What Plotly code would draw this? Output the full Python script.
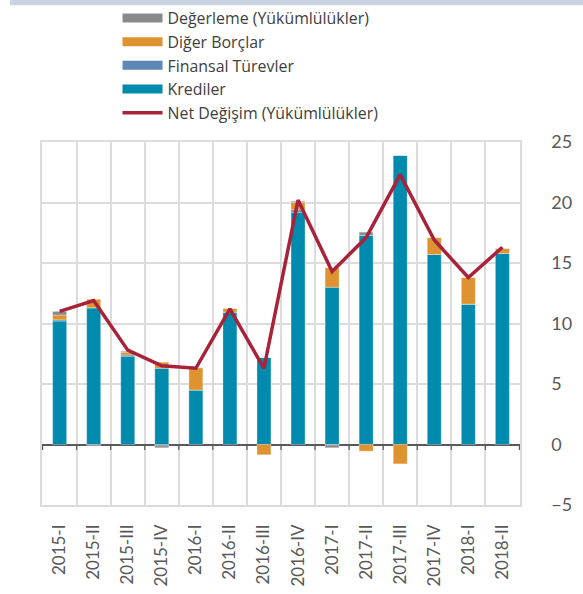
import plotly.graph_objects as go

quarters = ["2015-I", "2015-II", "2015-III", "2015-IV", "2016-I", "2016-II", "2016-III",
            "2016-IV", "2017-I", "2017-II", "2017-III", "2017-IV", "2018-I", "2018-II"]

krediler = [10.2, 11.3, 7.3, 6.3, 4.5, 10.9, 7.2, 19.2, 13.0, 17.3, 23.9, 15.7, 11.6, 15.8]
finansal_turevler = [0.1, 0.0, 0.1, -0.1, 0.0, 0.05, 0.0, 0.2, -0.05, 0.0, 0.0, 0.0, 0.0, 0.0]
diger_borclar = [0.4, 0.7, 0.2, 0.5, 1.85, 0.3, -0.85, 0.6, 1.6, -0.55, -1.6, 1.4, 2.2, 0.4]
degerleme = [0.3, -0.1, 0.1, -0.17, 0.0, 0.0, 0.0, 0.1, -0.22, 0.25, 0.0, 0.0, 0.0, 0.0]
net_degisim = [11.0, 11.9, 7.8, 6.5, 6.3, 11.2, 6.3, 20.2, 14.3, 17.1, 22.3, 16.9, 13.8, 16.3]

text_color = "#595959"
legend_color = "#404040"
font_family = "Lato"

fig = go.Figure()

bar_series = [
    ("Krediler", krediler, "#008aad", 4),
    ("Finansal Türevler", finansal_turevler, "#5b88b4", 3),
    ("Diğer Borçlar", diger_borclar, "#de9230", 2),
    ("Değerleme (Yükümlülükler)", degerleme, "#8a8a8a", 1),
]
for name, vals, color, rank in bar_series:
    fig.add_trace(go.Bar(
        x=quarters, y=vals, name=name, legendgroup=name, showlegend=False,
        marker=dict(color=color, line=dict(color="rgba(255,255,255,0.5)", width=0.6)),
    ))
    # wide rectangular legend swatch, like the original
    fig.add_trace(go.Scatter(
        x=[None], y=[None], name=name, legendgroup=name, legendrank=rank,
        mode="lines", line=dict(color=color, width=9), hoverinfo="skip",
    ))

fig.add_trace(go.Scatter(
    x=quarters, y=net_degisim, name="Net Değişim (Yükümlülükler)", legendrank=5,
    mode="lines", line=dict(color="#a8233a", width=3.5),
))

# small tick marks on the zero line at category boundaries
for i in range(len(quarters) + 1):
    fig.add_shape(type="line", xref="x", yref="y",
                  x0=i - 0.5, x1=i - 0.5, y0=0, y1=-0.45,
                  line=dict(color="#595959", width=1.2))

# thin band along the top of the page
fig.add_shape(type="rect", xref="paper", yref="paper",
              x0=-0.067, x1=1.2, y0=1.377, y1=1.40, line_width=0,
              fillcolor="#c9d5e3", layer="below")

fig.update_layout(
    width=583, height=594,
    barmode="relative",
    bargap=0.59,
    plot_bgcolor="white",
    paper_bgcolor="white",
    font=dict(family=font_family, size=17, color=text_color),
    margin=dict(l=42, r=63, t=142, b=89, autoexpand=False),
    legend=dict(
        x=0.158, y=1.388, xanchor="left", yanchor="top",
        traceorder="normal", font=dict(family="Open Sans", size=15.9, color=legend_color),
        tracegroupgap=0, itemwidth=40, bgcolor="rgba(0,0,0,0)",
    ),
    showlegend=True,
)

fig.update_xaxes(
    type="category",
    tickson="boundaries",
    showgrid=True, gridcolor="#dcdcdc", gridwidth=1.5,
    tickangle=-90,
    ticks="",
    showline=True, linecolor="#dcdcdc", linewidth=1.5, mirror=True,
    tickfont=dict(size=17, color=text_color),
    ticklabelstandoff=11,
    automargin=False,
)

fig.update_yaxes(
    side="right",
    range=[-5, 25], dtick=5,
    showgrid=True, gridcolor="#dcdcdc", gridwidth=1.5,
    zeroline=True, zerolinecolor="#595959", zerolinewidth=1.5,
    showline=True, linecolor="#dcdcdc", linewidth=1.5, mirror=True,
    ticks="", ticklabelstandoff=26,
    tickfont=dict(size=18, color=text_color),
    automargin=False,
)

# the page body has a default 8px margin; drop it so the figure sits at the corner
fig.write_html("out.html", config={"displayModeBar": False},
               post_script="document.body.style.margin='0px';")
